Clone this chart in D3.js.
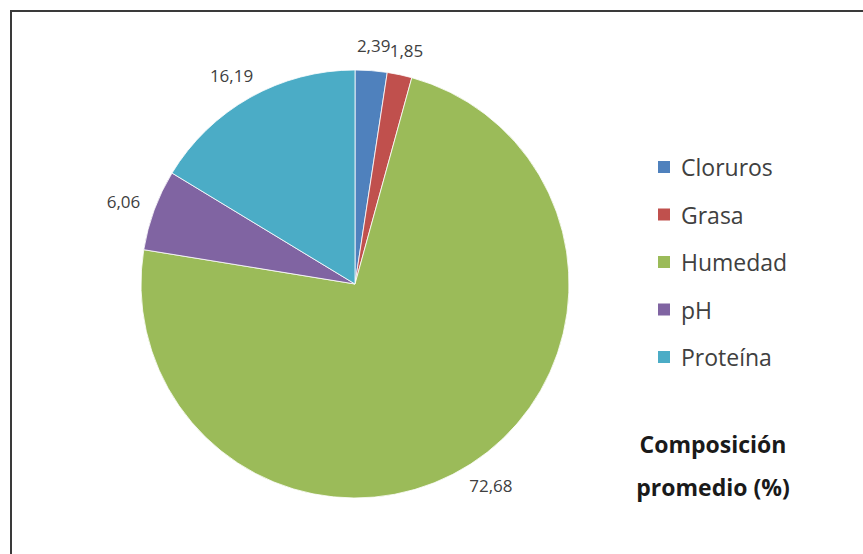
<!DOCTYPE html>
<html>
<head>
<meta charset="utf-8">
<script src="https://cdn.jsdelivr.net/npm/d3@7"></script>
<style>
  body { margin: 0; background: #fff; }
  text { font-family: "Open Sans", Lato, sans-serif; }
</style>
</head>
<body>
<div id="chart"></div>
<script>
// Pie chart - composicion promedio
var categories = ['Cloruros', 'Grasa', 'Humedad', 'pH', 'Proteína'];
var values = [2.39, 1.85, 72.68, 6.06, 16.19];
var colors = ['#4F81BD', '#C0504D', '#9BBB59', '#8064A2', '#4BACC6'];
var titleLines = ['Composición', 'promedio (%)'];

var svgWidth = 863;
var svgHeight = 554;

var svg = d3.select('#chart')
    .append('svg')
    .attr('width', svgWidth)
    .attr('height', svgHeight);

// frame (runs off the right and bottom of the picture)
svg.append('rect')
    .attr('x', 11)
    .attr('y', 11)
    .attr('width', svgWidth)
    .attr('height', svgHeight)
    .attr('fill', 'none')
    .attr('stroke', '#3a3a3a')
    .attr('stroke-width', 2);

var cx = 355, cy = 284, radius = 214;

var color = d3.scaleOrdinal().domain(categories).range(colors);

var pie = d3.pie().sort(null).value(d => d.value);
var arc = d3.arc().innerRadius(0).outerRadius(radius);

var data = categories.map((c, i) => ({ name: c, value: values[i] }));
var arcs = pie(data);

var g = svg.append('g').attr('transform', `translate(${cx}, ${cy})`);

g.selectAll('path')
    .data(arcs)
    .enter()
    .append('path')
    .attr('d', arc)
    .attr('fill', d => color(d.data.name))
    .attr('stroke', '#fff')
    .attr('stroke-width', 0.8);

// data labels, outside end
var fmt = v => d3.format('.2f')(v).replace('.', ',');
g.selectAll('text.lbl')
    .data(arcs)
    .enter()
    .append('text')
    .attr('class', 'lbl')
    .attr('font-size', 17)
    .attr('fill', '#404040')
    .attr('text-anchor', 'middle')
    .attr('dominant-baseline', 'central')
    .text(d => fmt(d.data.value))
    .attr('x', function(d) {
        var a = (d.startAngle + d.endAngle) / 2;
        var w = this.getComputedTextLength();
        return Math.sin(a) * (radius + 16) + Math.sin(a) * w / 2;
    })
    .attr('y', function(d) {
        var a = (d.startAngle + d.endAngle) / 2;
        return -Math.cos(a) * (radius + 16) - Math.cos(a) * 9;
    });

// legend
var legend = svg.append('g').attr('transform', 'translate(658, 167)');
var item = legend.selectAll('g')
    .data(categories)
    .enter()
    .append('g')
    .attr('transform', (d, i) => `translate(0, ${i * 47.5})`);

item.append('rect')
    .attr('x', 0)
    .attr('y', -6)
    .attr('width', 12)
    .attr('height', 12)
    .attr('fill', d => color(d));

item.append('text')
    .attr('x', 23)
    .attr('y', 0)
    .attr('dominant-baseline', 'central')
    .attr('font-size', 23)
    .attr('fill', '#404040')
    .text(d => d);

// title (bottom right)
svg.append('g')
    .selectAll('text')
    .data(titleLines)
    .enter()
    .append('text')
    .attr('x', 713)
    .attr('y', (d, i) => 453 + i * 43)
    .attr('text-anchor', 'middle')
    .attr('font-size', 23)
    .attr('font-weight', 'bold')
    .attr('fill', '#1a1a1a')
    .text(d => d);
</script>
</body>
</html>
